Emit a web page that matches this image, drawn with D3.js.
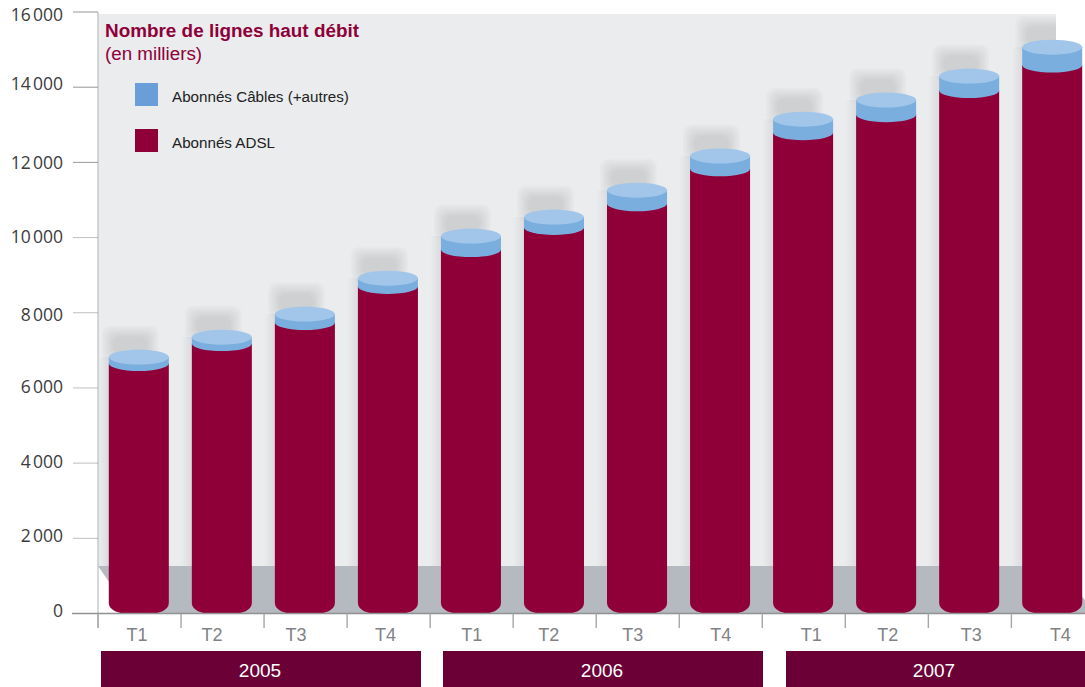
<!DOCTYPE html>
<html lang="fr">
<head>
<meta charset="utf-8">
<title>Nombre de lignes haut débit</title>
<script src="https://cdnjs.cloudflare.com/ajax/libs/d3/7.8.5/d3.min.js"></script>
<style>
html,body{margin:0;padding:0;background:#fff}
svg{display:block}
text{font-family:"Liberation Sans",Arial,sans-serif}
.ytick{font-family:"Open Sans",sans-serif}
</style>
</head>
<body>
<div id="chart"></div>
<script>
// Lignes haut débit par trimestre, en milliers
const quarters = ["T1","T2","T3","T4","T1","T2","T3","T4","T1","T2","T3","T4"];
const years = ["2005","2006","2007"];
const adsl = [6650,7180,7740,8700,9680,10270,10900,11830,12790,13270,13910,14590];
const cable = [170,170,225,220,360,275,360,340,360,390,385,475];
const yTicks = [0,2000,4000,6000,8000,10000,12000,14000,16000];
const legendLabels = ["Abonnés Câbles (+autres)","Abonnés ADSL"];

// Décalages typographiques des libellés
const yLabelNudge = [-3,-2,-1,-1,2,-1,0,-3,3];
const quarterNudge = [-2.5,-10.5,-9.5,-3,0,-6,-5,0,7.5,1,1.5,7.5];

const W = 1085, H = 687;
const INK = "#8f0039", SIDE = "#7aaede", TOP = "#a2c6ea", BAND = "#6b0036";

const svg = d3.select("#chart").append("svg").attr("width",W).attr("height",H);
const defs = svg.append("defs");
const gapGrad = defs.append("linearGradient").attr("id","gap");
gapGrad.append("stop").attr("offset",0).attr("stop-color","#cfd1d4").attr("stop-opacity",0);
gapGrad.append("stop").attr("offset",1).attr("stop-color","#cfd1d4").attr("stop-opacity",0.6);
defs.append("clipPath").attr("id","panelClip").append("rect")
  .attr("x",98).attr("y",14).attr("width",958).attr("height",552);

const y = d3.scaleLinear().domain([0,16000]).range([613.5,12]);
const x = d3.scaleBand().domain(d3.range(quarters.length)).range([98,1093]).paddingInner(0.277).paddingOuter(0.13);
const bw = x.bandwidth();
const ry = 7.5;
const totals = adsl.map((v,i)=>v+cable[i]);

// Fond du graphique et sol en perspective
svg.append("rect").attr("x",98).attr("y",14).attr("width",958).attr("height",552).attr("fill","#eaecee");
svg.append("path").attr("d","M98,566L1056,566L1085,600L1085,613.5L131,613.5Z").attr("fill","#b4babf");

// Ombres portées : halo fondu obtenu par superposition de rectangles arrondis
const shadows = svg.append("g").attr("clip-path","url(#panelClip)");
const layers = d3.range(9);
const halos = shadows.selectAll("g.halo").data(totals).join("g").attr("class","halo");
halos.selectAll("rect").data((d,i)=>layers.map(k=>({k,i,total:d}))).join("rect")
  .attr("x",d=>x(d.i)-7+d.k*1.4).attr("width",d=>bw-3-d.k*2.8)
  .attr("y",d=>y(d.total)-ry-24+d.k*1.4).attr("height",d=>36-d.k*2.4)
  .attr("rx",8).attr("fill","#9a9c9f").attr("opacity",0.045);
shadows.selectAll("rect.gap").data(totals).join("rect").attr("class","gap")
  .attr("x",(d,i)=>x(i)-11).attr("width",11)
  .attr("y",d=>y(d)).attr("height",d=>566-y(d))
  .attr("fill","url(#gap)");

// Axe vertical et graduations
svg.append("line").attr("x1",98).attr("x2",98).attr("y1",12).attr("y2",628).attr("stroke","#bdbfc1").attr("stroke-width",1.2);
svg.selectAll("line.yt").data(yTicks.filter(d=>d>0)).join("line").attr("class","yt")
  .attr("x1",73).attr("x2",98).attr("y1",d=>y(d)).attr("y2",d=>y(d))
  .attr("stroke","#8d8d8d").attr("stroke-opacity",d=>d>=12000?0.9:0.55);
svg.selectAll("text.ytick").data(yTicks).join("text").attr("class","ytick")
  .attr("x",63).attr("y",(d,i)=>y(d)+yLabelNudge[i]).attr("dy","0.35em").attr("text-anchor","end")
  .attr("font-size",17.5).attr("fill","#3c3c3c")
  .text(d=>d3.format(",")(d).replace(",","\u202f"));

// Cylindres empilés
const halfW = bw/2;
const bars = svg.append("g");
bars.selectAll("path.adsl").data(adsl).join("path").attr("class","adsl")
  .attr("fill",INK)
  .attr("d",(d,i)=>{
    const l=x(i), r=l+bw, t=y(d), b=y(0)+0.5;
    return `M${l},${t}L${r},${t}L${r},${b-11}C${r},${b-4} ${r-10},${b} ${r-20},${b}L${l+20},${b}C${l+10},${b} ${l},${b-4} ${l},${b-11}Z`;
  });
bars.selectAll("path.lip").data(adsl).join("path").attr("class","lip")
  .attr("fill",SIDE)
  .attr("d",(d,i)=>{
    const l=x(i), r=l+bw, t=y(d), top=y(totals[i]);
    return `M${l},${top}L${r},${top}L${r},${t}A${halfW},${ry} 0 0 1 ${l},${t}Z`;
  });
bars.selectAll("ellipse.cap").data(totals).join("ellipse").attr("class","cap")
  .attr("cx",(d,i)=>x(i)+halfW).attr("cy",d=>y(d)).attr("rx",halfW).attr("ry",ry).attr("fill",TOP);

// Ligne de base et repères de trimestres
svg.append("line").attr("x1",72).attr("x2",W).attr("y1",y(0)).attr("y2",y(0)).attr("stroke","#8f9193").attr("stroke-width",1.6);
svg.selectAll("line.xt").data(quarters).join("line").attr("class","xt")
  .attr("x1",(d,i)=>x(i)-(x(0)-98)).attr("x2",(d,i)=>x(i)-(x(0)-98))
  .attr("y1",y(0)).attr("y2",628).attr("stroke","#a4a6a8").attr("stroke-width",1.4);
svg.selectAll("text.q").data(quarters).join("text").attr("class","q")
  .attr("x",(d,i)=>x(i)-(x(0)-98)+x.step()/2+quarterNudge[i]).attr("y",641).attr("text-anchor","middle")
  .attr("font-size",18).attr("fill","#808285").text(d=>d);

// Bandeaux des années
const bandX = d3.scaleOrdinal().domain(years).range([101,443,786]);
const bandW = d3.scaleOrdinal().domain(years).range([320,320,299]);
svg.selectAll("rect.yr").data(years).join("rect").attr("class","yr")
  .attr("x",d=>bandX(d)).attr("y",651).attr("width",d=>bandW(d)).attr("height",36).attr("fill",BAND);
svg.selectAll("text.yr").data(years).join("text").attr("class","yr")
  .attr("x",(d,i)=>bandX(d)+(i<2?159:148)).attr("y",677).attr("text-anchor","middle")
  .attr("font-size",19).attr("fill","#fff").text(d=>d);

// Titre et légende
svg.append("text").attr("x",105).attr("y",37).attr("font-size",18.9).attr("font-weight","bold").attr("fill",INK).text("Nombre de lignes haut débit");
svg.append("text").attr("x",105).attr("y",60).attr("font-size",18.8).attr("fill",INK).text("(en milliers)");
const legendY = d3.scalePoint().domain(legendLabels).range([83,129]);
svg.selectAll("rect.lg").data(legendLabels).join("rect").attr("class","lg")
  .attr("x",135).attr("y",d=>legendY(d)).attr("width",23).attr("height",23)
  .attr("fill",(d,i)=>i?INK:"#6a9ed8");
svg.selectAll("text.lg").data(legendLabels).join("text").attr("class","lg")
  .attr("x",172).attr("y",d=>legendY(d)+19).attr("font-size",15.2).attr("fill","#222").text(d=>d);
</script>
</body>
</html>
